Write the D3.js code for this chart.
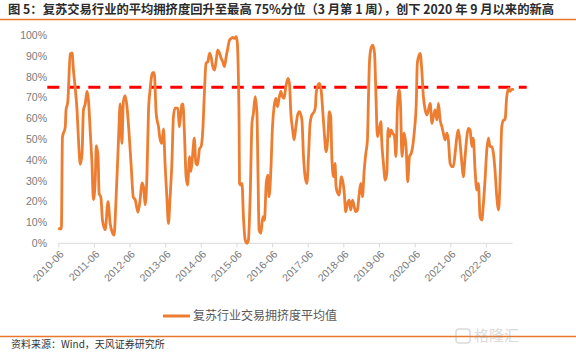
<!DOCTYPE html>
<html><head><meta charset="utf-8">
<script src="https://cdn.jsdelivr.net/npm/d3@7"></script>
<style>
html,body{margin:0;padding:0;background:#fff;}
svg{display:block;font-family:"Noto Sans CJK SC","Noto Sans",sans-serif;}
</style></head>
<body>
<svg id="c" width="576" height="356"></svg>
<script>
// ---- data (decimal year, value %) ----
const years = [
2010.44,2010.50,2010.53,2010.61,2010.63,2010.68,2010.75,2010.80,2010.84,2010.89,2010.94,2010.98,
2011.03,2011.08,2011.12,2011.17,2011.22,2011.26,2011.31,2011.36,2011.40,2011.45,2011.48,2011.53,2011.56,2011.61,2011.655,2011.73,2011.81,2011.87,2011.935,2011.98,
2012.03,2012.10,2012.15,2012.20,2012.24,2012.29,2012.34,2012.40,2012.46,2012.52,2012.57,2012.65,2012.71,2012.76,2012.805,2012.85,2012.90,2012.945,2012.99,
2013.06,2013.105,2013.16,2013.225,2013.27,2013.32,2013.365,2013.41,2013.46,2013.505,2013.55,2013.60,2013.645,2013.69,2013.77,2013.81,2013.86,2013.88,2013.91,2013.95,
2014.00,2014.04,2014.10,2014.135,2014.18,2014.23,2014.275,2014.32,2014.38,2014.42,2014.47,2014.51,2014.56,2014.61,2014.66,2014.70,2014.75,2014.80,2014.845,2014.89,2014.94,2014.985,
2015.03,2015.08,2015.125,2015.17,2015.22,2015.27,2015.31,2015.36,2015.41,2015.44,2015.47,2015.49,2015.50,2015.54,2015.57,2015.61,2015.66,2015.71,2015.75,2015.80,2015.85,2015.89,2015.94,2015.99,
2016.015,2016.05,2016.10,2016.155,2016.20,2016.25,2016.295,2016.33,2016.38,2016.425,2016.47,2016.52,2016.565,2016.61,2016.66,2016.705,2016.75,2016.80,2016.86,2016.90,2016.94,2016.99,
2017.03,2017.08,2017.13,2017.18,2017.25,2017.295,2017.34,2017.39,2017.435,2017.48,2017.53,2017.595,2017.63,2017.65,2017.70,2017.74,2017.79,2017.84,2017.88,2017.93,2017.98,
2018.02,2018.06,2018.09,2018.14,2018.18,2018.21,2018.26,2018.30,2018.35,2018.40,2018.44,2018.48,2018.53,2018.58,2018.62,2018.67,2018.72,2018.765,2018.81,2018.86,2018.905,2018.95,
2019.00,2019.045,2019.09,2019.12,2019.15,2019.19,2019.24,2019.29,2019.33,2019.37,2019.42,2019.47,2019.49,2019.54,2019.59,2019.635,2019.67,2019.71,2019.755,2019.80,2019.85,2019.89,2019.93,2019.98,
2020.02,2020.06,2020.12,2020.18,2020.22,2020.27,2020.32,2020.36,2020.41,2020.46,2020.49,2020.54,2020.57,2020.615,2020.66,2020.71,2020.76,2020.80,2020.85,2020.90,2020.94,2020.99,
2021.04,2021.08,2021.13,2021.18,2021.22,2021.27,2021.32,2021.36,2021.41,2021.46,2021.50,2021.55,2021.60,2021.64,2021.69,2021.74,2021.78,2021.83,2021.88,2021.92,2021.97,
2022.02,2022.06,2022.11,2022.16,2022.205,2022.25,2022.30,2022.345,2022.39,2022.44,2022.485,2022.53,2022.58,2022.625,2022.67,2022.72,2022.77,2022.81,2022.86,2022.91,2022.95,
2023.00,2023.05,2023.09,2023.14,2023.17
];
const values = [
7,7,51,56,64,68,91,91.5,83,74.5,64,50,
38,43,64,67,73,69,54,38,21,30,47,42,24,22,11,6.5,20,9.5,5,4,
19,48,67,48,68,71,66,53,37,22,21,15,21,29,27,18.5,32,64,74,
82,82,62.5,56,50,48,55,38,22,9.5,22,38,61,65,65,56,64,66.5,67,54.5,
32,28,41.7,34.5,41.7,50.5,38.4,37.6,45.6,46.4,54.5,70.5,86.5,87.3,91.4,89.7,84.9,83.3,88,93,91.4,89,
87.3,85,89.7,93.7,97.7,98.5,99,98.5,99.3,96,78.5,54.5,28.8,28,28.8,12.8,1.6,0,1.6,22.4,57.7,62.5,70.5,62.5,
38.4,6.4,4.8,12.8,11,28.8,32.8,22.4,35.3,56,65.7,69.7,65.7,69.7,73,70.5,69.7,75.3,79.3,76.9,62.5,54.5,
49.7,56,61.7,63.3,59.3,41.7,32,28.8,41.7,57.7,61.7,63.3,65.7,72.1,76.1,76.9,73.7,62.5,52.9,44,51.3,
63.3,60.9,41.7,32,38.4,27.2,24,23.2,32,29.6,24,15.2,19.2,20.8,16,20.8,17.6,15.2,16,24,28.8,22.4,
35.3,43.3,49.7,70.5,88,93.7,95.3,91.3,70.5,51.3,54.5,58.5,49.7,38.4,30.4,33.6,55.3,51.3,54.5,52.9,51.3,41.7,64.1,73.7,
65.7,41.7,52.9,44.9,29.6,41.7,43.3,46.5,54.5,67.3,86.5,90.5,91.3,83.3,70.5,64.1,61.7,64.1,67.3,57.7,60.9,64.1,
59.3,67.3,59.3,56,52.9,49.7,52.9,49.7,38.4,36.9,36.9,43.3,51.3,54.5,48.1,38.4,32,41.7,51.3,55.3,54.5,
46.5,50.5,35.3,25.6,28.8,12.8,11.2,19.2,30.4,44.9,50.5,46.5,46.5,43.3,35.3,22.4,16,28.8,56,59.3,59.3,
70.5,74.5,73,74,74
];
const yTicks = [0,10,20,30,40,50,60,70,80,90,100];
const xTickLabels = ["2010-06","2011-06","2012-06","2013-06","2014-06","2015-06","2016-06","2017-06","2018-06","2019-06","2020-06","2021-06","2022-06"];
const threshold = 75;
const seriesName = "复苏行业交易拥挤度平均值";
const titleText = "图 5：复苏交易行业的平均拥挤度回升至最高 75%分位（3 月第 1 周），创下 2020 年 9 月以来的新高";
const sourceText = "资料来源：Wind，天风证券研究所";

// ---- helpers ----
function fromDecimal(y){
  const Y = Math.floor(y), s = new Date(Y,0,1), e = new Date(Y+1,0,1);
  return new Date(s.getTime() + (y - Y)*(e - s));
}
const data = years.map((y,i)=>({date: fromDecimal(y), v: values[i]}));
const parseM = d3.timeParse("%Y-%m");

const svg = d3.select("#c");
const orange = "#ED7D31";

const x = d3.scaleTime()
  .domain([parseM("2010-06"), new Date(2023,2,3)])
  .range([58.3, 512.7]);
const y = d3.scaleLinear().domain([0,100]).range([243.3, 35.3]);

// title
svg.append("text").attr("x",8).attr("y",13.5)
  .attr("font-size",12.3).attr("font-weight","bold").attr("fill","#2b2b2b")
  .text(titleText);
svg.append("line").attr("x1",0).attr("x2",576).attr("y1",19.5).attr("y2",19.5)
  .attr("stroke","#E8792C").attr("stroke-width",1.3);

// y labels
svg.append("g").selectAll("text").data(yTicks).join("text")
  .attr("x",47).attr("y",d=>y(d)).attr("dy","0.35em")
  .attr("text-anchor","end").attr("font-size",10.5).attr("fill","#7a7a7a")
  .attr("font-family","Liberation Sans, Arial, sans-serif")
  .text(d=>d+"%");

// x axis
const xAxis = d3.axisBottom(x)
  .tickValues(xTickLabels.map(parseM))
  .tickSize(4).tickFormat((d,i)=>xTickLabels[i]);
const gx = svg.append("g").attr("transform",`translate(0,${y(0)})`).call(xAxis);
gx.select(".domain").attr("stroke","#d9d9d9").attr("d",`M${x.range()[0]},0H${x.range()[1]}`);
gx.selectAll(".tick line").attr("stroke","#d9d9d9");
gx.selectAll(".tick text")
  .attr("font-size",10.5).attr("fill","#7a7a7a")
  .attr("font-family","Liberation Sans, Arial, sans-serif")
  .attr("text-anchor","end").attr("y",0).attr("dy","0.35em")
  .attr("transform","translate(3,9) rotate(-45)");

// threshold dashed line
svg.append("line")
  .attr("x1", x.range()[0]-11).attr("x2", x.range()[1]+14)
  .attr("y1", y(threshold)).attr("y2", y(threshold))
  .attr("stroke","#FF0000").attr("stroke-width",3).attr("stroke-dasharray","12,8.5");

// series line
svg.append("path").datum(data)
  .attr("fill","none").attr("stroke",orange).attr("stroke-width",2.8)
  .attr("stroke-linejoin","round").attr("stroke-linecap","round")
  .attr("d", d3.line().x(d=>x(d.date)).y(d=>y(d.v)).curve(d3.curveMonotoneX));

// legend
svg.append("line").attr("x1",163).attr("x2",190).attr("y1",316).attr("y2",316)
  .attr("stroke",orange).attr("stroke-width",3);
svg.append("text").attr("x",193).attr("y",316).attr("dy","0.35em")
  .attr("font-size",12).attr("fill","#595959").text(seriesName);

// footer
svg.append("line").attr("x1",0).attr("x2",576).attr("y1",336.5).attr("y2",336.5)
  .attr("stroke","#E8792C").attr("stroke-width",1.3);
svg.append("text").attr("x",11).attr("y",344).attr("dy","0.35em")
  .attr("font-size",10).attr("fill","#333").text(sourceText);

// watermark
const wm = svg.append("g").attr("opacity",0.35);
wm.append("rect").attr("x",456).attr("y",329).attr("width",14).attr("height",14).attr("rx",3)
  .attr("fill","none").attr("stroke","#999").attr("stroke-width",1.5);
wm.append("text").attr("x",474).attr("y",341).attr("font-size",15).attr("fill","#999").text("格隆汇");
</script>
</body></html>
